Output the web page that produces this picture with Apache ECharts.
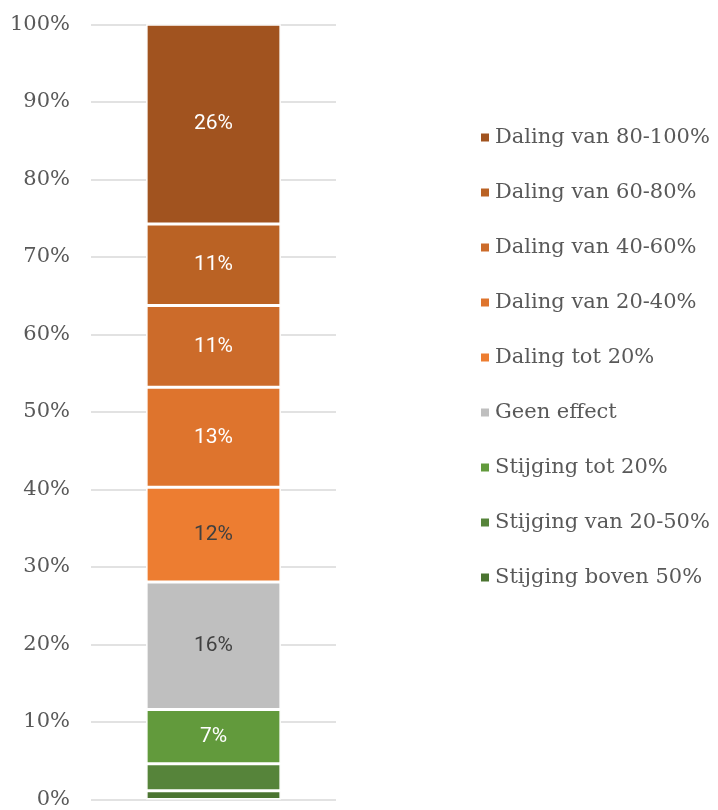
<!DOCTYPE html>
<html>
<head>
<meta charset="utf-8">
<script src="https://cdn.jsdelivr.net/npm/echarts@6/dist/echarts.min.js"></script>
<style>html,body{margin:0;padding:0;background:#fff}#c{width:718px;height:810px}</style>
</head>
<body>
<div id="c"></div>
<script>
// Data (stacking order: bottom to top)
var categories = [''];
var seriesNames = ['Stijging boven 50%', 'Stijging van 20-50%', 'Stijging tot 20%', 'Geen effect', 'Daling tot 20%', 'Daling van 20-40%', 'Daling van 40-60%', 'Daling van 60-80%', 'Daling van 80-100%'];
var seriesValues = [1.13, 3.47, 7.0, 16.45, 12.22, 12.91, 10.55, 10.51, 25.76];
var colors = ['#4B7431', '#56843A', '#629A3C', '#BFBFBF', '#ED7D31', '#DE742D', '#CC6B2A', '#BA6224', '#A1531F'];
var labelColors = ['#fff', '#fff', '#fff', '#404040', '#404040', '#fff', '#fff', '#fff', '#fff'];
var yTicks = { min: 0, max: 100, interval: 10 };

var chart = echarts.init(document.getElementById('c'));
var series = seriesNames.map(function (name, i) {
  return {
    name: name,
    type: 'bar',
    stack: 'total',
    barWidth: '55%',
    data: [seriesValues[i]],
    itemStyle: { color: colors[i], borderColor: '#fff', borderWidth: 1.5 },
    label: {
      show: seriesValues[i] >= 5,
      position: 'inside',
      color: labelColors[i],
      fontFamily: 'Roboto',
      fontSize: 21,
      formatter: function (p) { return Math.round(p.value) + '%'; }
    },
    emphasis: { disabled: true }
  };
});

chart.setOption({
  animation: false,
  color: colors,
  grid: { left: 91, width: 245, top: 24.3, bottom: 8.2, containLabel: false },
  legend: {
    orient: 'vertical',
    left: 474,
    top: 122,
    data: seriesNames.slice().reverse(),
    icon: 'rect',
    itemWidth: 10,
    itemHeight: 10,
    itemGap: 34,
    textStyle: { fontFamily: 'DejaVu Serif', fontSize: 21, color: '#595959', lineHeight: 21, padding: [0, 0, 0, 0] },
    selectedMode: false
  },
  xAxis: {
    type: 'category',
    data: categories,
    axisLine: { show: false },
    axisTick: { show: false },
    axisLabel: { show: false }
  },
  yAxis: {
    type: 'value',
    min: yTicks.min,
    max: yTicks.max,
    interval: yTicks.interval,
    axisLine: { show: false },
    axisTick: { show: false },
    splitLine: { lineStyle: { color: '#D9D9D9', width: 1.5 } },
    axisLabel: { formatter: '{value}%', fontFamily: 'DejaVu Serif', fontSize: 21, color: '#595959', margin: 21 }
  },
  series: series
});
</script>
</body>
</html>
